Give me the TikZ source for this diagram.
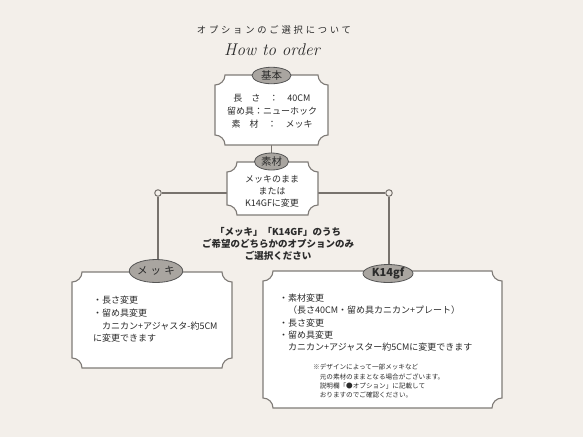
\documentclass[tikz,border=0pt]{standalone}
\usepackage{fontspec}
\usetikzlibrary{shapes.geometric,calc}
\newfontfamily\jp{Noto Sans CJK JP}
\newfontfamily\jpt[LetterSpace=30]{Noto Sans CJK JP}
\definecolor{bg}{HTML}{F3EFEA}
\definecolor{bord}{HTML}{7F7B77}
\definecolor{conn}{HTML}{77726D}
\definecolor{lab}{HTML}{A9A5A0}
\definecolor{txt}{HTML}{2B2B2B}
\tikzset{
  boxnode/.style={rectangle, inner sep=0pt, outer sep=0pt},
  boxline/.style={draw=bord, line width=1.1pt, fill=white},
  connline/.style={draw=conn, line width=1.3pt},
  labell/.style={ellipse, draw=txt!80, line width=0.8pt, fill=lab, inner sep=0pt, text=txt},
  dot/.style={circle, draw=conn, line width=1pt, fill=bg, minimum size=6.5pt, inner sep=0pt},
  body/.style={font=\jp\fontsize{9}{12.5}\selectfont, text=txt, inner sep=0pt},
}
\newcommand\ticketbox[1]{%
  \path[boxline] let \p1=(#1.north west), \p2=(#1.south east) in
    (\x1+10pt,\y1) -- (\x2-10pt,\y1)
    .. controls (\x2-10pt,\y1-5.5pt) and (\x2-5.5pt,\y1-10pt) .. (\x2,\y1-10pt)
    -- (\x2,\y2+10pt)
    .. controls (\x2-5.5pt,\y2+10pt) and (\x2-10pt,\y2+5.5pt) .. (\x2-10pt,\y2)
    -- (\x1+10pt,\y2)
    .. controls (\x1+10pt,\y2+5.5pt) and (\x1+5.5pt,\y2+10pt) .. (\x1,\y2+10pt)
    -- (\x1,\y1-10pt)
    .. controls (\x1+5.5pt,\y1-10pt) and (\x1+10pt,\y1-5.5pt) .. (\x1+10pt,\y1)
    -- cycle;}
\begin{document}
\begin{tikzpicture}[x=1pt,y=-1pt]
\fill[bg] (0,0) rectangle (583,437);
\useasboundingbox (0,0) rectangle (583,437);

% title
\node[font=\jpt\fontsize{9.3}{10}\selectfont, text=txt] (title) at (274,30) {オプションのご選択について};
\node[font=\normalfont\itshape\fontsize{17}{18}\selectfont, text=txt] (how) at (272,50) {How to order};

% box placeholders
\node[boxnode, minimum width=113pt, minimum height=70pt] (kbox) at (271.5,110) {};
\node[boxnode, minimum width=91pt, minimum height=53pt] (sbox) at (272.5,188.5) {};
\node[boxnode, minimum width=160pt, minimum height=96pt] (mbox) at (152,320) {};
\node[boxnode, minimum width=239pt, minimum height=137pt] (kgbox) at (382.5,339.5) {};

% dots
\node[dot] (cl) at (158,193) {};
\node[dot] (cr) at (389,193) {};

% connectors
\draw[connline] (kbox.south) -- ++(0,10);
\draw[connline] (cl.east) -- (cl.east -| sbox.west);
\draw[connline] (cr.west) -- (cr.west -| sbox.east);
\draw[connline] (cl.south) -- ++(0,70);
\draw[connline] (cr.south) -- ++(0,70);

% boxes
\ticketbox{kbox}
\ticketbox{sbox}
\ticketbox{mbox}
\ticketbox{kgbox}

% labels
\node[labell, minimum width=39pt, minimum height=16.5pt, font=\jp\fontsize{10.5}{10}\selectfont] (kl) at (271.5,75.5) {基本};
\node[labell, minimum width=34pt, minimum height=17pt, font=\jp\fontsize{10.5}{10}\selectfont] (sl) at (271.5,161.5) {素材};
\node[labell, minimum width=50pt, minimum height=23pt, font=\jpt\fontsize{10.5}{10}\selectfont] (ml) at (156,271) {メッキ};
\node[labell, minimum width=50pt, minimum height=18pt, font=\jp\bfseries\fontsize{11}{10}\selectfont] (kl2) at (388,273.5) {K14gf};

% texts
\node[body, align=center, font=\jp\fontsize{9}{13}\selectfont] (kt) at (272,111) {長　さ　：　40CM\\留め具：ニューホック\\素　材　：　メッキ};
\node[body, align=center, font=\jp\fontsize{9}{12}\selectfont] (st) at (272,191) {メッキのまま\\または\\K14GFに変更};
\node[body, align=center, font=\jp\bfseries\fontsize{9.5}{12}\selectfont] (ct) at (278,244) {「メッキ」「K14GF」のうち\\ご希望のどちらかのオプションのみ\\ご選択ください};
\node[body, align=left, anchor=north west, font=\jp\fontsize{9}{12.7}\selectfont] (mt) at (93,296) {・長さ変更\\・留め具変更\\　カニカン+アジャスタ-約5CM\\に変更できます};
\node[body, align=left, anchor=north west, font=\jp\fontsize{9}{12.2}\selectfont] (kt2) at (279,294) {・素材変更\\　（長さ40CM・留め具カニカン+プレート）\\・長さ変更\\・留め具変更\\　カニカン+アジャスター約5CMに変更できます};
\node[body, align=left, anchor=north west, font=\jp\fontsize{6.6}{9.3}\selectfont] (nt) at (313,364) {※デザインによって一部メッキなど\\　元の素材のままとなる場合がございます。\\　説明欄「●オプション」に記載して\\　おりますのでご確認ください。};
\end{tikzpicture}
\end{document}
